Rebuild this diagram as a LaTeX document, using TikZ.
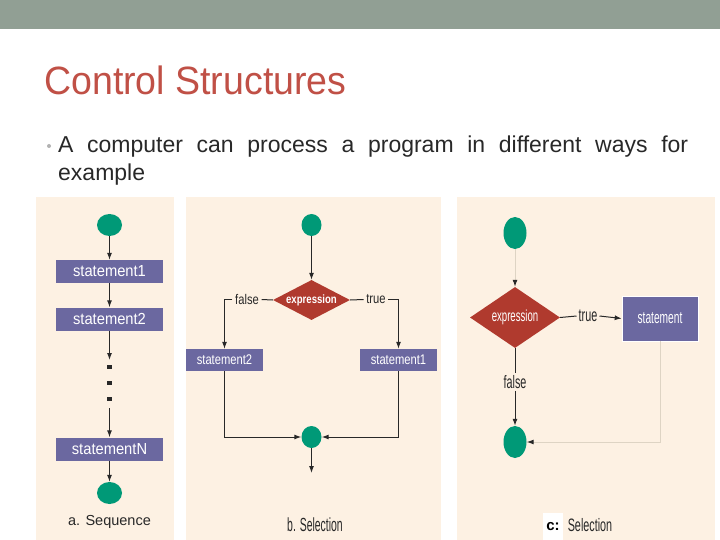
\documentclass[tikz,border=0pt]{standalone}
\usepackage{fontspec}
\setmainfont{Liberation Sans}
\newfontfamily\titlefont[FakeStretch=0.95]{Liberation Sans}
\newfontfamily\condA[FakeStretch=0.92]{Liberation Sans}
\newfontfamily\condB[FakeStretch=0.8]{Liberation Sans}
\newfontfamily\condBcap[FakeStretch=0.55]{Liberation Sans}
\newfontfamily\condC[FakeStretch=0.6]{Liberation Sans}
\usetikzlibrary{shapes.geometric,arrows.meta}
\definecolor{barcol}{RGB}{145,159,148}
\definecolor{titlecol}{RGB}{192,80,70}
\definecolor{panelbg}{RGB}{253,241,227}
\definecolor{startcol}{RGB}{0,153,119}
\definecolor{boxcol}{RGB}{107,104,160}
\definecolor{diacol}{RGB}{176,58,46}
\definecolor{paleline}{RGB}{222,212,196}
\definecolor{txtcol}{RGB}{40,40,40}
\begin{document}
\begin{tikzpicture}[x=1pt,y=-1pt,
  arr/.style={-{Latex[length=7pt,width=5pt]}, line width=1pt, draw=txtcol},
  plain/.style={line width=1pt, draw=txtcol},
  palearr/.style={-{Latex[length=7pt,width=5pt,color=txtcol]}, line width=1pt, draw=paleline},
  startA/.style={ellipse, fill=startcol, inner sep=0, minimum width=25, minimum height=22},
  startB/.style={ellipse, fill=startcol, inner sep=0, minimum width=20, minimum height=22},
  startC/.style={ellipse, fill=startcol, inner sep=0, minimum width=23, minimum height=32},
  stmtA/.style={rectangle, fill=boxcol, text=white, inner sep=0, minimum width=107, minimum height=23, font=\condA\fontsize{16}{16}\selectfont},
  stmtB/.style={rectangle, fill=boxcol, text=white, inner sep=0, minimum width=77, minimum height=22, font=\condB\fontsize{14}{14}\selectfont},
  stmtC/.style={rectangle, fill=boxcol, draw=white, line width=0.6pt, text=white, inner sep=0, minimum width=76, minimum height=45, font=\condC\fontsize{17}{17}\selectfont},
  diaB/.style={diamond, fill=diacol, text=white, inner sep=0, aspect=1.9, minimum width=77, minimum height=40, font=\condB\bfseries\fontsize{12}{12}\selectfont},
  diaC/.style={diamond, fill=diacol, text=white, inner sep=0, aspect=1.48, minimum width=90, minimum height=61, font=\condC\fontsize{16}{16}\selectfont},
  lblB/.style={inner sep=2.5pt, text=txtcol, font=\condB\fontsize{14}{14}\selectfont},
  lblC/.style={inner sep=2pt, text=txtcol, font=\condC\fontsize{18}{18}\selectfont},
  dotn/.style={rectangle, fill=txtcol, inner sep=0, minimum size=4.5},
  panel/.style={fill=panelbg}]
\useasboundingbox (0,0) rectangle (720,540);
\fill[barcol] (0,0) rectangle (720,29);
% title and bullet
\node[anchor=base west, inner sep=0, text=titlecol, font=\titlefont\fontsize{39.5}{40}\selectfont] (title) at (44,95) {Control Structures};
\node[circle, fill=gray!60, inner sep=0, minimum size=4] (bul) at (49,146) {};
\node[anchor=base west, inner sep=0, text=txtcol, font=\fontsize{23}{28}\selectfont] (l1) at (58,153) {\makebox[630pt][s]{A computer can process a program in different ways for}};
\node[anchor=base west, inner sep=0, text=txtcol, font=\fontsize{23}{28}\selectfont] (l2) at (58,181) {example};
% panels
\fill[panel] (36,197) rectangle (174,540);
\fill[panel] (186,197) rectangle (441,540);
\fill[panel] (457,197) rectangle (715,540);
% ---------- panel a
\node[startA] (a0) at (109.5,225) {};
\node[stmtA] (a1) at (109.5,271.5) {statement1};
\node[stmtA] (a2) at (109.5,319) {statement2};
\coordinate (ad1) at (109.5,360);
\node[dotn] (d1) at (109.5,367) {};
\node[dotn] (d2) at (109.5,383) {};
\node[dotn] (d3) at (109.5,399) {};
\coordinate (ad2) at (109.5,408);
\node[stmtA] (aN) at (109.5,449) {statementN};
\node[startA] (aE) at (109.5,493) {};
\node[text=txtcol, font=\fontsize{14.5}{15}\selectfont] (acap) at (109.5,522) {a. Sequence};
\draw[arr] (a0) -- (a1);
\draw[arr] (a1) -- (a2);
\draw[arr] (a2) -- (ad1);
\draw[arr] (ad2) -- (aN);
\draw[arr] (aN) -- (aE);
% ---------- panel b
\node[startB] (b0) at (311.5,225) {};
\node[diaB] (bx) at (311.5,300) {expression};
\node[stmtB] (b2) at (224.5,360) {statement2};
\node[stmtB] (b1) at (398.5,360) {statement1};
\node[startB] (bE) at (311.5,437) {};
\node[lblB] (bf) at (247,299.5) {false};
\node[lblB] (bt) at (376,299.5) {true};
\coordinate (bend) at (311.5,473);
\node[text=txtcol, font=\condBcap\fontsize{19}{19}\selectfont] (bcap) at (315,525) {b. Selection};
\draw[arr] (b0) -- (bx);
\draw[plain] (bx.west) -- (bf.east);
\draw[arr] (bf.west) -| (b2.north);
\draw[plain] (bx.east) -- (bt.west);
\draw[arr] (bt.east) -| (b1.north);
\draw[arr] (b2.south) |- (bE.west);
\draw[arr] (b1.south) |- (bE.east);
\draw[arr] (bE) -- (bend);
% ---------- panel c
\node[startC] (c0) at (515,233) {};
\node[diaC] (cx) at (515,317.5) {expression};
\node[stmtC] (cs) at (660,318.5) {statement};
\node[lblC] (ct) at (588,316) {true};
\node[lblC] (cf) at (515,382) {false};
\node[startC] (cE) at (515,442) {};
\node[fill=white, inner sep=0, minimum width=20, minimum height=27, text=black, font=\bfseries\fontsize{15}{15}\selectfont] (cc) at (553,526.5) {c:};
\node[text=txtcol, font=\condC\fontsize{18}{18}\selectfont] (ccap) at (590,525) {Selection};
\draw[palearr] (c0) -- (cx);
\draw[plain] (cx.east) -- (ct.west);
\draw[arr] (ct.east) -- (cs.west);
\draw[plain] (cx.south) -- (cf.north);
\draw[arr] (cf.south) -- (cE.north);
\draw[palearr] (cs.south) |- (cE.east);
\end{tikzpicture}
\end{document}
